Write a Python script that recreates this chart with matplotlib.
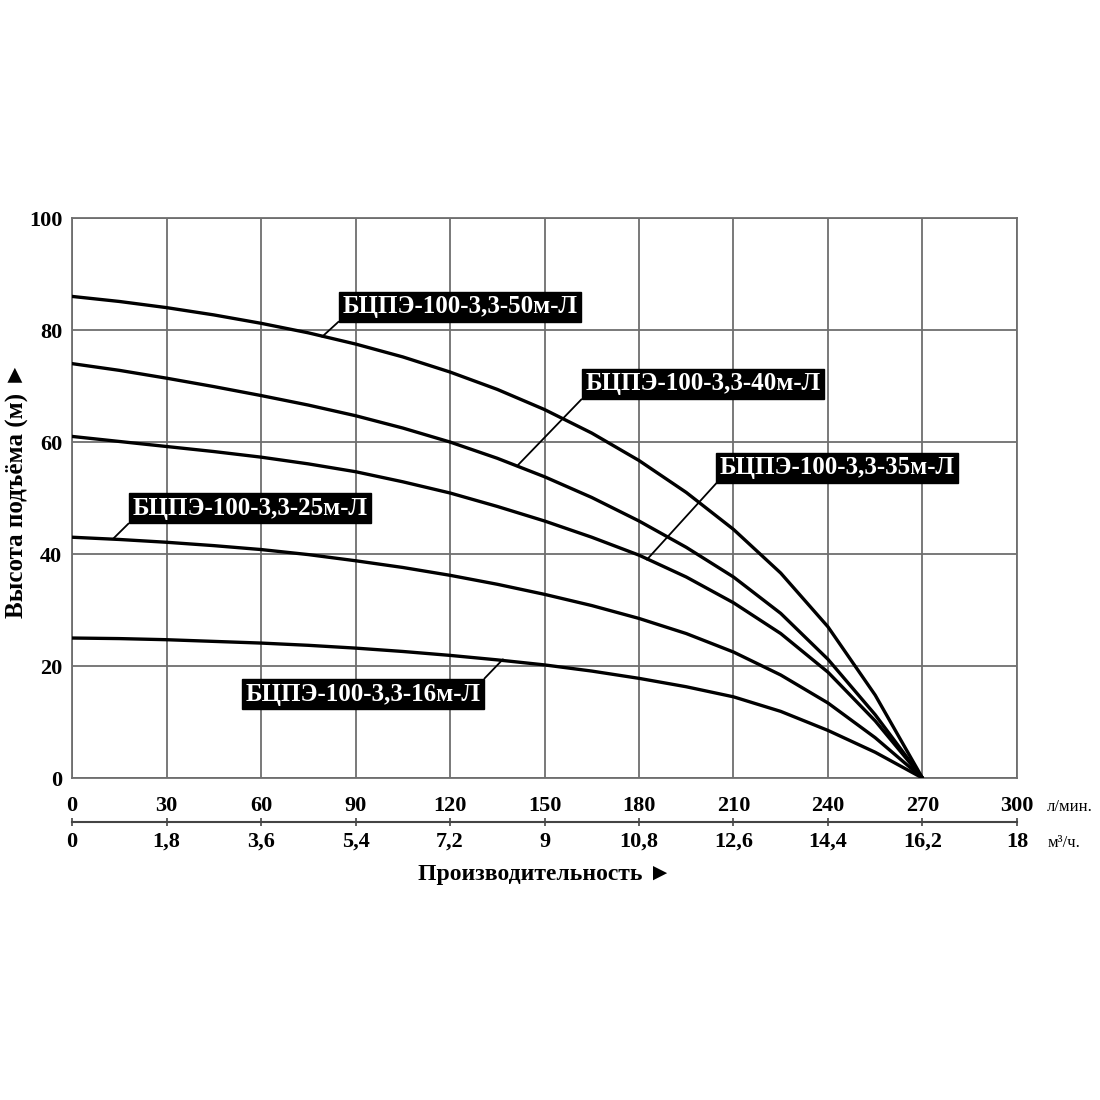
import matplotlib
matplotlib.use('Agg')
import matplotlib.pyplot as plt

plt.rcParams['font.family'] = ['Liberation Serif', 'DejaVu Serif', 'DejaVu Sans']
plt.rcParams['font.weight'] = 'bold'

# flow, l/min
flow = [0, 15, 30, 45, 60, 75, 90, 105, 120, 135, 150, 165, 180, 195, 210, 225, 240, 255, 270]
# head, m
head_50 = [86, 85.1, 84.0, 82.7, 81.2, 79.5, 77.5, 75.2, 72.5, 69.4, 65.8, 61.6, 56.7, 51.0, 44.4, 36.6, 27.0, 14.8, 0]
head_40 = [74, 72.8, 71.4, 69.9, 68.3, 66.6, 64.7, 62.5, 60.0, 57.1, 53.8, 50.1, 45.9, 41.2, 35.9, 29.4, 21.2, 11.3, 0]
head_35 = [61, 60.1, 59.2, 58.3, 57.3, 56.1, 54.7, 52.9, 50.9, 48.5, 45.9, 43.0, 39.8, 35.9, 31.3, 25.8, 18.9, 10.2, 0]
head_25 = [43, 42.6, 42.1, 41.5, 40.8, 39.9, 38.8, 37.6, 36.2, 34.6, 32.8, 30.8, 28.5, 25.8, 22.5, 18.4, 13.4, 7.2, 0]
head_16 = [25, 24.9, 24.7, 24.4, 24.1, 23.7, 23.2, 22.6, 21.9, 21.1, 20.2, 19.1, 17.8, 16.3, 14.5, 11.9, 8.5, 4.6, 0]

names = ['БЦПЭ-100-3,3-50м-Л', 'БЦПЭ-100-3,3-40м-Л', 'БЦПЭ-100-3,3-35м-Л',
         'БЦПЭ-100-3,3-25м-Л', 'БЦПЭ-100-3,3-16м-Л']

lpm_ticks = [0, 30, 60, 90, 120, 150, 180, 210, 240, 270, 300]
m3h_ticks = [0, 1.8, 3.6, 5.4, 7.2, 9, 10.8, 12.6, 14.4, 16.2, 18]
head_ticks = [0, 20, 40, 60, 80, 100]

grid_c = '#6e6e6e'

fig = plt.figure(figsize=(11, 11), dpi=100)
ax = fig.add_axes([0.0655, 0.2927, 0.859, 0.5091])

for h in [head_50, head_40, head_35, head_25, head_16]:
    ax.plot(flow, h, color='black', lw=2.4, solid_capstyle='round',
            solid_joinstyle='round', zorder=3)

ax.set_xlim(0, 300)
ax.set_ylim(0, 100)
ax.set_xticks(lpm_ticks)
ax.set_yticks(head_ticks)
ax.grid(True, color=grid_c, lw=1.3)
ax.set_axisbelow(True)
for s in ax.spines.values():
    s.set_color(grid_c)
    s.set_linewidth(1.3)
ax.tick_params(axis='both', length=0, labelsize=16)
ax.tick_params(axis='x', pad=13)
ax.tick_params(axis='y', pad=7)

sec = ax.secondary_xaxis(-0.0786, functions=(lambda x: x * 0.06, lambda x: x / 0.06))
sec.set_xticks(m3h_ticks)
sec.set_xticklabels([f'{v:g}'.replace('.', ',') for v in m3h_ticks])
sec.spines['bottom'].set_color('#444444')
sec.spines['bottom'].set_linewidth(1.5)
sec.tick_params(axis='x', direction='inout', length=6, width=1.2, color='#444444',
                labelsize=16, pad=4)

ax.text(1.032, -0.052, 'л/мин.', transform=ax.transAxes, fontsize=12,
        fontweight='normal', ha='left', va='center')
ax.text(1.032, -0.116, 'м³/ч.', transform=ax.transAxes, fontsize=12,
        fontweight='normal', ha='left', va='center')
ax.text(0.5, -0.173, 'Производительность ►', transform=ax.transAxes, fontsize=17,
        ha='center', va='center')
fig.text(0.016, 0.555, 'Высота подъёма (м) ►', rotation=90, fontsize=18,
         ha='center', va='center')

# label text, box centre, curve point, box corner for the leader
labels = [
    (names[0], (123.2, 84.2), (79.4, 78.8), (0, 0)),
    (names[1], (200.3, 70.4), (141.6, 55.9), (0, 0)),
    (names[2], (243.0, 55.4), (182.5, 39.0), (0, 0)),
    (names[3], (56.5, 48.2), (13.0, 42.7), (0, 0)),
    (names[4], (92.4, 15.0), (136.8, 21.2), (1, 1)),
]
for text, xyt, xy, rel in labels:
    ax.annotate(text, xy=xy, xytext=xyt, ha='center', va='center',
                fontsize=18, color='white', zorder=5,
                bbox=dict(boxstyle='square,pad=0.14', fc='black', ec='black'),
                arrowprops=dict(arrowstyle='-', color='black', lw=1.3,
                                shrinkA=0, shrinkB=0, relpos=rel))

fig.savefig('out.png', dpi=100)
